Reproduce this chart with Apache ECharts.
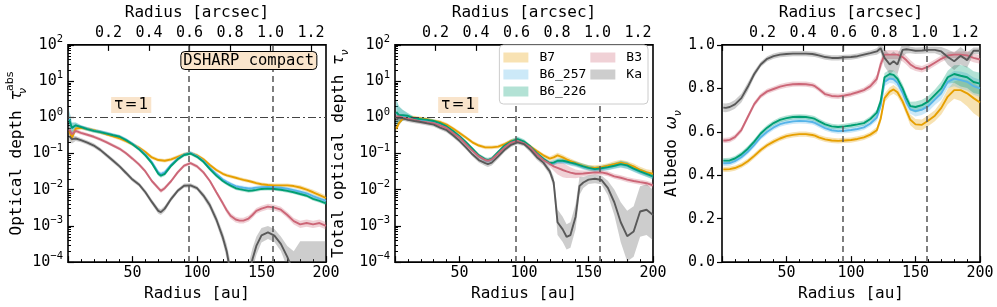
<!DOCTYPE html>
<html><head><meta charset="utf-8">
<script src="https://cdn.jsdelivr.net/npm/echarts@6/dist/echarts.min.js"></script>
<style>html,body{margin:0;padding:0;background:#fff}#c{width:997px;height:307px}</style>
</head><body><div id="c"></div>
<script>
// ---------------- data ----------------
const radius = [1,3,6,10,15,20,25,30,35,40, 45,50,55,60,65,70,72,75,80,85, 90,95,100,105,110,115,120,123,126,130, 133,136,140,143,146,150,155,160,165,170, 175,180,185,190,195,200];
const auPerArcsec = 157;
const gapRadii = [93.3, 159];
const seriesNames = ['B7','B6_257','B6_226','B3','Ka'];
const lineColors = ['#E69F00','#56B4E9','#009E73','#CC6677','#595959'];
const bandColors = ['rgba(230,159,0,0.3)','rgba(86,180,233,0.3)','rgba(0,158,115,0.3)','rgba(204,102,119,0.3)','rgba(89,89,89,0.3)'];
const legendSwatchColors = ['#F8E2B3','#CCE9F8','#B3E2D5','#F0D1D6','#CDCDCD'];

// Panel 1: absorption optical depth
const absB7 = [0.42,0.27,0.49,0.51,0.48,0.44,0.39,0.34,0.30,0.26, 0.22,0.18,0.145,0.11,0.078,0.066,0.065,0.063,0.069,0.081, 0.095,0.102,0.089,0.069,0.048,0.035,0.0275,0.025,0.0234,0.0214, 0.020,0.0187,0.0174,0.0163,0.0152,0.0141,0.0135,0.0132,0.0132,0.0132, 0.0126,0.0115,0.010,0.0085,0.0071,0.0059];
const absB6_257 = [0.9,0.5,0.6,0.55,0.48,0.43,0.4,0.36,0.325,0.295, 0.24,0.186,0.138,0.094,0.058,0.03,0.027,0.03,0.049,0.072, 0.094,0.104,0.085,0.062,0.04,0.027,0.0192,0.0165,0.0145,0.0125, 0.0119,0.0114,0.0108,0.011,0.0114,0.0118,0.012,0.0118,0.0113,0.0106, 0.0097,0.0088,0.0079,0.0066,0.0057,0.0049];
const absB6_226 = [0.85,0.51,0.6,0.54,0.47,0.42,0.39,0.355,0.32,0.29, 0.234,0.18,0.132,0.089,0.054,0.0275,0.0245,0.0275,0.046,0.069, 0.091,0.1,0.081,0.059,0.037,0.0245,0.0174,0.0148,0.0129,0.011, 0.0104,0.0099,0.0093,0.0095,0.0099,0.0105,0.0107,0.0105,0.010,0.0093, 0.0085,0.0076,0.0068,0.0056,0.0049,0.0042];
const absB3 = [0.46,0.34,0.42,0.37,0.33,0.29,0.245,0.204,0.166,0.135, 0.102,0.072,0.05,0.032,0.0174,0.011,0.0093,0.011,0.0174,0.030, 0.046,0.054,0.044,0.030,0.0174,0.0085,0.0042,0.0027,0.0019,0.0015, 0.0014,0.0014,0.0016,0.0020,0.0026,0.003,0.0034,0.0032,0.0028,0.002, 0.00135,0.0011,0.0012,0.0011,0.0012,0.001];
const absKa = [0.3,0.25,0.26,0.234,0.2,0.166,0.126,0.089,0.063,0.044, 0.029,0.019,0.014,0.0085,0.0046,0.0026,0.0024,0.003,0.0056,0.0093, 0.0129,0.0132,0.011,0.0069,0.0037,0.0015,0.00048,0.0002,0.00005,0.00001, 0.00001,0.00001,0.00004,0.00012,0.00028,0.00055,0.00066,0.00054,0.00032,0.00014, 0.00005,0.00003,0.00003,0.00003,0.00003,0.00003];
// band half-widths in dex
const absErrB7 = [0.12,0.10,0.06,0.05,0.05,0.05,0.05,0.05,0.05,0.05, 0.05,0.05,0.05,0.05,0.05,0.05,0.05,0.05,0.05,0.05, 0.05,0.05,0.05,0.05,0.05,0.05,0.05,0.05,0.05,0.05, 0.05,0.05,0.05,0.05,0.05,0.05,0.05,0.05,0.05,0.05, 0.05,0.06,0.06,0.07,0.07,0.07];
const absErrB6_257 = [0.25,0.15,0.08,0.05,0.05,0.05,0.05,0.05,0.05,0.05, 0.05,0.05,0.05,0.05,0.05,0.06,0.06,0.06,0.05,0.05, 0.05,0.05,0.05,0.05,0.05,0.05,0.05,0.05,0.05,0.05, 0.05,0.05,0.05,0.05,0.05,0.05,0.05,0.05,0.05,0.05, 0.05,0.05,0.05,0.05,0.05,0.05];
const absErrB6_226 = [0.25,0.15,0.08,0.05,0.05,0.05,0.05,0.05,0.05,0.05, 0.05,0.05,0.05,0.05,0.05,0.06,0.06,0.06,0.05,0.05, 0.05,0.05,0.05,0.05,0.05,0.05,0.05,0.05,0.05,0.05, 0.05,0.05,0.05,0.05,0.05,0.05,0.05,0.05,0.05,0.05, 0.05,0.05,0.05,0.05,0.05,0.05];
const absErrB3 = [0.12,0.10,0.06,0.05,0.05,0.05,0.05,0.05,0.05,0.05, 0.05,0.05,0.05,0.05,0.05,0.06,0.06,0.06,0.05,0.05, 0.05,0.05,0.05,0.05,0.05,0.06,0.07,0.08,0.08,0.08, 0.08,0.08,0.08,0.08,0.08,0.08,0.08,0.08,0.08,0.08, 0.09,0.1,0.1,0.1,0.1,0.1];
const absErrKa = [0.15,0.12,0.07,0.06,0.06,0.06,0.06,0.06,0.06,0.06, 0.06,0.06,0.06,0.07,0.07,0.08,0.08,0.08,0.07,0.06, 0.06,0.06,0.06,0.08,0.1,0.12,0.15,0.2,0.3,0.35, 0.35,0.35,0.35,0.3,0.25,0.2,0.18,0.18,0.2,0.3, 0.6,1.1,1.1,1.1,1.1,1.1];

// Panel 2: total optical depth
const totB7 = [0.48,0.69,0.91,0.98,0.98,0.93,0.87,0.79,0.74,0.63, 0.49,0.37,0.275,0.204,0.166,0.148,0.148,0.148,0.155,0.182, 0.224,0.234,0.204,0.155,0.117,0.089,0.072,0.078,0.089,0.078, 0.069,0.062,0.054,0.049,0.045,0.041,0.04,0.042,0.046,0.051, 0.056,0.051,0.044,0.035,0.030,0.0275];
const totB6_257 = [1.35,1.1,1.12,1.06,0.9,0.86,0.82,0.76,0.66,0.54, 0.4,0.29,0.195,0.128,0.085,0.066,0.063,0.069,0.105,0.158, 0.205,0.24,0.205,0.148,0.098,0.069,0.052,0.054,0.06,0.06, 0.057,0.054,0.05,0.046,0.042,0.039,0.036,0.038,0.041,0.045, 0.05,0.046,0.037,0.031,0.027,0.023];
const totB6_226 = [1.41,1.15,1.15,1.1,0.93,0.89,0.85,0.79,0.69,0.56, 0.42,0.30,0.204,0.135,0.089,0.069,0.066,0.072,0.11,0.166, 0.214,0.25,0.214,0.155,0.102,0.072,0.054,0.056,0.063,0.063, 0.06,0.056,0.052,0.048,0.044,0.04,0.037,0.039,0.042,0.046, 0.051,0.047,0.038,0.032,0.0275,0.0234];
const totB3 = [1.05,1.05,0.98,0.91,0.85,0.76,0.72,0.69,0.6,0.51, 0.37,0.275,0.182,0.12,0.083,0.066,0.063,0.069,0.1,0.148, 0.2,0.224,0.19,0.145,0.095,0.066,0.052,0.044,0.04,0.035, 0.032,0.0295,0.0275,0.0275,0.028,0.029,0.030,0.030,0.0275,0.0234, 0.0214,0.019,0.0174,0.0162,0.0151,0.0132];
const totKa = [0.85,0.98,0.93,0.85,0.79,0.74,0.68,0.63,0.52,0.44, 0.32,0.224,0.148,0.095,0.066,0.054,0.051,0.056,0.083,0.126, 0.174,0.204,0.182,0.126,0.079,0.056,0.032,0.016,0.00126,0.0008, 0.0005,0.00056,0.0018,0.0126,0.0158,0.019,0.02,0.0186,0.0112,0.0045, 0.00126,0.00052,0.0007,0.0025,0.0028,0.002];
const totErrB7 = [0.1,0.08,0.05,0.05,0.05,0.05,0.05,0.05,0.05,0.05, 0.05,0.05,0.05,0.05,0.05,0.05,0.05,0.05,0.05,0.05, 0.05,0.05,0.05,0.05,0.05,0.05,0.06,0.07,0.07,0.07, 0.07,0.07,0.07,0.07,0.07,0.07,0.07,0.07,0.07,0.08, 0.08,0.08,0.08,0.09,0.09,0.1];
const totErrB6_257 = [0.35,0.25,0.15,0.08,0.05,0.05,0.05,0.05,0.05,0.05, 0.05,0.05,0.05,0.05,0.05,0.06,0.06,0.06,0.05,0.05, 0.06,0.07,0.06,0.05,0.05,0.05,0.06,0.07,0.07,0.07, 0.07,0.07,0.07,0.07,0.07,0.07,0.07,0.07,0.08,0.08, 0.09,0.09,0.08,0.08,0.08,0.08];
const totErrB6_226 = [0.35,0.25,0.15,0.08,0.05,0.05,0.05,0.05,0.05,0.05, 0.05,0.05,0.05,0.05,0.05,0.06,0.06,0.06,0.05,0.05, 0.06,0.07,0.06,0.05,0.05,0.05,0.06,0.07,0.07,0.07, 0.07,0.07,0.07,0.07,0.07,0.07,0.07,0.07,0.08,0.08, 0.09,0.09,0.08,0.08,0.08,0.08];
const totErrB3 = [0.1,0.08,0.05,0.05,0.05,0.05,0.05,0.05,0.05,0.05, 0.05,0.05,0.05,0.05,0.05,0.05,0.05,0.05,0.05,0.05, 0.05,0.05,0.05,0.05,0.05,0.06,0.08,0.12,0.18,0.2, 0.18,0.15,0.12,0.1,0.08,0.07,0.07,0.07,0.07,0.07, 0.07,0.07,0.07,0.07,0.07,0.07];
const totErrKa = [0.12,0.1,0.06,0.06,0.06,0.06,0.06,0.06,0.06,0.06, 0.06,0.06,0.06,0.06,0.07,0.08,0.08,0.08,0.07,0.06, 0.06,0.06,0.06,0.07,0.08,0.08,0.1,0.15,0.35,0.35, 0.35,0.35,0.35,0.25,0.15,0.12,0.12,0.12,0.2,0.35, 0.55,0.7,0.7,0.7,0.7,0.7];

// Panel 3: albedo
const albB7 = [0.427,0.427,0.428,0.433,0.445,0.464,0.489,0.516,0.538,0.555, 0.569,0.58,0.586,0.589,0.589,0.585,0.582,0.574,0.565,0.56, 0.558,0.56,0.562,0.567,0.574,0.587,0.607,0.66,0.755,0.785, 0.795,0.782,0.74,0.696,0.655,0.634,0.632,0.652,0.674,0.71, 0.762,0.792,0.792,0.777,0.755,0.735];
const albB6_257 = [0.455,0.455,0.456,0.465,0.483,0.508,0.54,0.575,0.6,0.62, 0.635,0.643,0.648,0.65,0.649,0.645,0.641,0.632,0.617,0.607, 0.603,0.605,0.608,0.613,0.62,0.638,0.666,0.72,0.83,0.845, 0.842,0.825,0.78,0.735,0.703,0.695,0.702,0.718,0.748,0.778, 0.83,0.845,0.838,0.83,0.81,0.8];
const albB6_226 = [0.467,0.467,0.468,0.477,0.496,0.522,0.555,0.592,0.619,0.64, 0.655,0.663,0.668,0.669,0.668,0.663,0.659,0.649,0.634,0.625, 0.622,0.625,0.629,0.634,0.64,0.659,0.688,0.74,0.851,0.866, 0.862,0.844,0.8,0.755,0.718,0.714,0.723,0.74,0.77,0.8, 0.851,0.866,0.858,0.851,0.829,0.822];
const albB3 = [0.56,0.56,0.563,0.575,0.608,0.668,0.727,0.765,0.786,0.797, 0.808,0.815,0.819,0.82,0.819,0.815,0.81,0.797,0.773,0.765, 0.763,0.767,0.773,0.782,0.792,0.81,0.844,0.91,0.955,0.955, 0.955,0.955,0.944,0.929,0.91,0.895,0.888,0.9,0.918,0.936, 0.951,0.955,0.955,0.952,0.94,0.933];
const albKa = [0.711,0.71,0.714,0.726,0.755,0.807,0.866,0.91,0.936,0.948, 0.955,0.958,0.96,0.96,0.96,0.958,0.956,0.952,0.944,0.94, 0.94,0.943,0.944,0.948,0.955,0.962,0.97,0.985,0.94,0.91, 0.925,0.91,0.977,0.98,0.977,0.973,0.974,0.977,0.977,0.97, 0.944,0.925,0.95,0.93,0.973,0.973];
const albErrB7 = [0.012,0.012,0.012,0.012,0.012,0.012,0.012,0.012,0.012,0.012, 0.012,0.012,0.012,0.012,0.012,0.012,0.012,0.012,0.012,0.012, 0.012,0.012,0.012,0.012,0.012,0.012,0.015,0.02,0.02,0.02, 0.02,0.02,0.02,0.02,0.025,0.025,0.025,0.025,0.025,0.03, 0.035,0.04,0.05,0.06,0.07,0.07];
const albErrB6_257 = [0.012,0.012,0.012,0.012,0.012,0.012,0.012,0.012,0.012,0.012, 0.012,0.012,0.012,0.012,0.012,0.012,0.012,0.012,0.012,0.012, 0.012,0.012,0.012,0.012,0.012,0.012,0.015,0.02,0.02,0.02, 0.02,0.02,0.02,0.02,0.02,0.025,0.025,0.025,0.025,0.03, 0.03,0.035,0.04,0.04,0.04,0.04];
const albErrB6_226 = [0.012,0.012,0.012,0.012,0.012,0.012,0.012,0.012,0.012,0.012, 0.012,0.012,0.012,0.012,0.012,0.012,0.012,0.012,0.012,0.012, 0.012,0.012,0.012,0.012,0.012,0.012,0.015,0.02,0.02,0.02, 0.02,0.02,0.02,0.02,0.02,0.025,0.025,0.025,0.025,0.03, 0.03,0.04,0.05,0.05,0.05,0.05];
const albErrB3 = [0.012,0.012,0.012,0.012,0.012,0.012,0.012,0.012,0.012,0.012, 0.012,0.012,0.012,0.012,0.012,0.012,0.012,0.012,0.012,0.012, 0.012,0.012,0.012,0.012,0.012,0.015,0.02,0.025,0.02,0.02, 0.02,0.02,0.02,0.02,0.02,0.015,0.015,0.015,0.015,0.015, 0.015,0.015,0.015,0.02,0.02,0.02];
const albErrKa = [0.02,0.02,0.02,0.02,0.02,0.02,0.015,0.012,0.012,0.012, 0.012,0.012,0.012,0.012,0.012,0.012,0.012,0.012,0.012,0.012, 0.012,0.012,0.012,0.012,0.012,0.012,0.015,0.02,0.04,0.045, 0.045,0.045,0.03,0.02,0.015,0.015,0.015,0.015,0.015,0.02, 0.035,0.04,0.04,0.035,0.015,0.015];

const tauOneLabelAt = [49, 2.2];

// ---------------- chart ----------------
const MONO = 'DejaVu Sans Mono';
const panels = [
  {log:true, values:[absB7,absB6_257,absB6_226,absB3,absKa], errs:[absErrB7,absErrB6_257,absErrB6_226,absErrB3,absErrKa], tauLine:true},
  {log:true, values:[totB7,totB6_257,totB6_226,totB3,totKa], errs:[totErrB7,totErrB6_257,totErrB6_226,totErrB3,totErrKa], tauLine:true},
  {log:false, values:[albB7,albB6_257,albB6_226,albB3,albKa], errs:[albErrB7,albErrB6_257,albErrB6_226,albErrB3,albErrKa], tauLine:false}
];
const gridLefts = [68, 395, 722];

function bandSeries(name, gi, lo, hi, color) {
  const pts = radius.map((x, i) => [x, lo[i], hi[i]]);
  return {
    type: 'custom', name, xAxisIndex: 2 * gi, yAxisIndex: gi, z: 2, silent: true,
    itemStyle: {color}, data: pts, encode: {x: 0, y: [1, 2]},
    renderItem: function (params, api) {
      if (params.dataIndex !== 0) return null;
      const up = pts.map(p => api.coord([p[0], p[2]]));
      const dn = pts.map(p => api.coord([p[0], p[1]])).reverse();
      const cs = params.coordSys;
      return {
        type: 'polygon', shape: {points: up.concat(dn)}, style: {fill: color},
        clipPath: {type: 'rect', shape: {x: cs.x, y: cs.y, width: cs.width, height: cs.height}}
      };
    }
  };
}

const series = [];
panels.forEach((p, gi) => {
  seriesNames.forEach((nm, si) => {
    const v = p.values[si], e = p.errs[si];
    const lo = v.map((y, i) => p.log ? y / Math.pow(10, e[i]) : y - e[i]);
    const hi = v.map((y, i) => p.log ? y * Math.pow(10, e[i]) : y + e[i]);
    series.push(bandSeries(nm, gi, lo, hi, bandColors[si]));
    const line = {
      type: 'line', name: nm, xAxisIndex: 2 * gi, yAxisIndex: gi, z: 3,
      data: radius.map((x, i) => [x, v[i]]), showSymbol: false, symbol: 'none',
      lineStyle: {color: lineColors[si], width: 1.9}, itemStyle: {color: lineColors[si]},
      clip: true, silent: true
    };
    if (si === seriesNames.length - 1) {
      const mlData = gapRadii.map(r => ({xAxis: r, lineStyle: {type: [6, 4], color: '#555', width: 1.5}}));
      if (p.tauLine) mlData.push({yAxis: 1, lineStyle: {type: [8, 3, 2, 3], color: '#444', width: 1.2}});
      line.markLine = {symbol: 'none', silent: true, label: {show: false}, animation: false, data: mlData};
      if (p.tauLine) {
        line.markPoint = {
          silent: true, animation: false, symbol: 'rect', symbolSize: 1, itemStyle: {color: 'rgba(0,0,0,0)'},
          data: [{coord: tauOneLabelAt, label: {show: true, position: 'inside', formatter: 'τ\u200a=\u200a1',
            backgroundColor: '#F9E4CB', padding: [1, 3, 0, 3], fontFamily: 'DejaVu Sans', fontSize: 15, color: '#000'}}]
        };
      }
    }
    series.push(line);
  });
});

const tickStyle = {color: '#000', width: 1.2};
const labelBase = {fontFamily: MONO, fontSize: 15, color: '#000'};
const nameStyle = {fontFamily: MONO, fontSize: 16, color: '#000', lineHeight: 24,
  rich: {
    g: {fontFamily: 'DejaVu Sans', fontStyle: 'italic', fontSize: 16, color: '#000', lineHeight: 24},
    sub: {fontFamily: 'DejaVu Sans', fontStyle: 'italic', fontSize: 11, color: '#000', verticalAlign: 'bottom', lineHeight: 12},
    subz: {fontFamily: 'DejaVu Sans', fontStyle: 'italic', fontSize: 11, color: '#000', verticalAlign: 'bottom', lineHeight: 12, width: 0},
    sup: {fontFamily: 'DejaVu Sans', fontSize: 11, color: '#000', verticalAlign: 'top', lineHeight: 11}
  }};

const xAxes = [], yAxes = [], grids = [];
gridLefts.forEach((left, gi) => {
  grids.push({left, top: 41.5, width: 258, height: 225, show: true, borderColor: '#000', borderWidth: 1.6, backgroundColor: 'rgba(0,0,0,0)'});
  xAxes.push({
    type: 'value', gridIndex: gi, min: 0, max: 200, interval: 50, position: 'bottom',
    name: 'Radius [au]', nameLocation: 'middle', nameGap: 20, nameTextStyle: {fontFamily: MONO, fontSize: 16, color: '#000'},
    axisLine: {show: false}, splitLine: {show: false},
    axisTick: {inside: true, length: 6, lineStyle: tickStyle},
    minorTick: {show: true, splitNumber: 5, length: 3, lineStyle: {color: '#000', width: 1}},
    axisLabel: Object.assign({margin: 4, formatter: v => (v === 0 ? '' : String(v))}, labelBase)
  });
  xAxes.push({
    type: 'value', gridIndex: gi, min: 0, max: 200 / auPerArcsec, interval: 0.2, position: 'top',
    name: 'Radius [arcsec]', nameLocation: 'middle', nameGap: 21, nameTextStyle: {fontFamily: MONO, fontSize: 16, color: '#000'},
    axisLine: {show: false}, splitLine: {show: false},
    axisTick: {inside: true, length: 6, lineStyle: tickStyle},
    axisLabel: Object.assign({margin: 4, showMaxLabel: false, formatter: v => {
      const k = v / 0.2; return (v > 0 && Math.abs(k - Math.round(k)) < 1e-6) ? v.toFixed(1) : '';
    }}, labelBase)
  });
});

function logAxis(gi, name, nameGap) {
  return {
    type: 'log', logBase: 10, gridIndex: gi, min: 1e-4, max: 100,
    name, nameLocation: 'middle', nameRotate: 90, nameGap, nameTextStyle: nameStyle,
    axisLine: {show: false}, splitLine: {show: false}, minorSplitLine: {show: false},
    axisTick: {inside: true, length: 6, lineStyle: tickStyle},
    minorTick: {show: true, splitNumber: 9, length: 3, lineStyle: {color: '#000', width: 1}},
    axisLabel: Object.assign({margin: 5, lineHeight: 22, formatter: v => {
      const e = Math.round(Math.log10(v));
      return '10{sup|' + (e < 0 ? '\u2212' + (-e) : e) + '}';
    }, rich: {sup: {fontFamily: MONO, fontSize: 10.5, color: '#000', verticalAlign: 'top', lineHeight: 11}}}, labelBase)
  };
}
yAxes.push(logAxis(0, 'Optical depth {g|τ}{subz|ν}{sup|abs}', 38));
yAxes.push(logAxis(1, 'Total optical depth {g|τ}{sub|ν}', 44));
yAxes.push({
  type: 'value', gridIndex: 2, min: 0, max: 1, interval: 0.2,
  name: 'Albedo {g|ω}{sub|ν}', nameLocation: 'middle', nameRotate: 90, nameGap: 31, nameTextStyle: nameStyle,
  axisLine: {show: false}, splitLine: {show: false},
  axisTick: {inside: false, length: 5, lineStyle: tickStyle},
  axisLabel: Object.assign({margin: 7, formatter: v => v.toFixed(1)}, labelBase)
});

const option = {
  animation: false,
  backgroundColor: '#fff',
  title: [{
    text: 'DSHARP compact', right: 680, top: 51, padding: [2, 3, 1, 3],
    backgroundColor: '#FAE5CC', borderColor: '#000', borderWidth: 1, borderRadius: 4,
    textStyle: {fontFamily: MONO, fontSize: 15.5, fontWeight: 'normal', color: '#000'}
  }],
  legend: {
    selectedMode: false, orient: 'vertical', right: 349, top: 45, height: 58, z: 20, zlevel: 0,
    itemWidth: 25, itemHeight: 10, itemGap: 4,
    backgroundColor: '#fff', borderColor: '#ccc', borderWidth: 1, borderRadius: 4, padding: [6, 6, 6, 4],
    textStyle: {fontFamily: MONO, fontSize: 13, color: '#000', padding: [0, 0, 0, 6]},
    data: seriesNames.map((n, i) => ({name: n, icon: 'rect', itemStyle: {color: legendSwatchColors[i], borderWidth: 0, opacity: 1}}))
  },
  grid: grids,
  xAxis: xAxes,
  yAxis: yAxes,
  series
};
const chart = echarts.init(document.getElementById('c'), null, {renderer: 'canvas'});
chart.setOption(option);
</script></body></html>
